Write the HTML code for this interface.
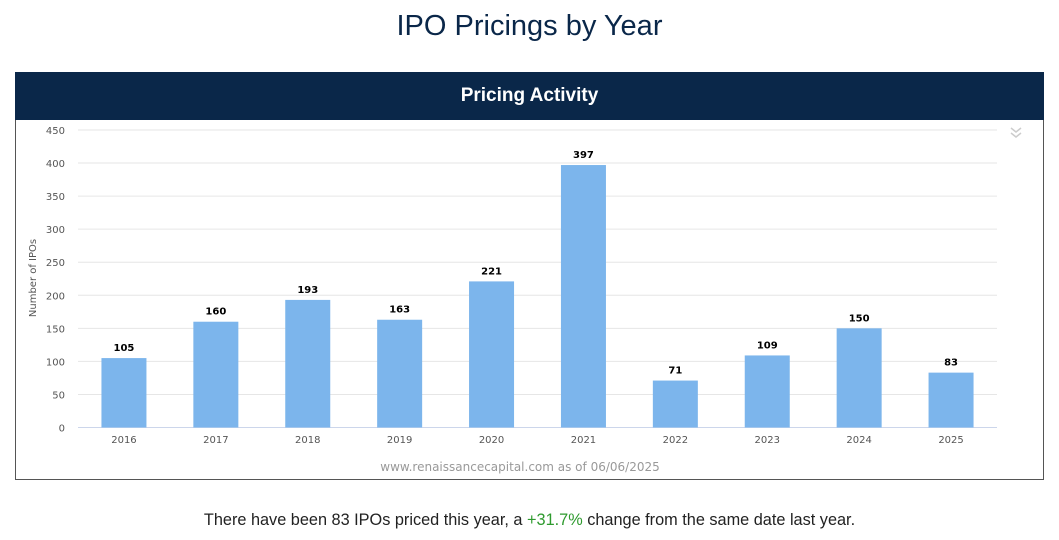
<!DOCTYPE html>
<html><head><meta charset="utf-8"><style>
body{margin:0;width:1059px;height:540px;background:#fff;font-family:"Liberation Sans",sans-serif;position:relative;overflow:hidden}
#title{position:absolute;left:0;width:1059px;top:10px;text-align:center;font-size:29px;color:#0a2749}
#panel{position:absolute;left:15px;top:72px;width:1027px;height:407px;border:1px solid #555;border-top:none}
#hdr{position:absolute;left:15px;top:72px;width:1029px;height:48px;background:#0a2749;color:#fff;font-size:19px;text-align:center;line-height:48px;font-weight:bold}
#foot{position:absolute;left:0;width:1059px;top:511px;text-align:center;font-size:16.3px;color:#222}
</style></head><body>
<div id="title">IPO Pricings by Year</div>
<div id="panel"></div>
<div id="hdr">Pricing Activity</div>
<svg id="chart" width="1059" height="540" style="position:absolute;left:0;top:0"></svg>
<div id="foot">There have been 83 IPOs priced this year, a <span style="color:#2e9a2e">+31.7%</span> change from the same date last year.</div>
<script>
const categories=["2016","2017","2018","2019","2020","2021","2022","2023","2024","2025"];
const values=[105,160,193,163,221,397,71,109,150,83];
const ticks=[0,50,100,150,200,250,300,350,400,450];
const svg=document.getElementById('chart');const NS="http://www.w3.org/2000/svg";
const x0=78,x1=997,yb=427.5,yt=130,ymax=450;
const y=v=>yb-(v/ymax)*(yb-yt);
const bw=(x1-x0)/categories.length;
const xc=i=>x0+bw*(i+0.5);
function mk(t,a,txt){const e=document.createElementNS(NS,t);for(const k in a)e.setAttribute(k,a[k]);if(txt!==undefined)e.textContent=txt;svg.appendChild(e);return e;}
ticks.forEach(t=>{
 const l=mk('line',{x1:x0,x2:x1,y1:y(t),y2:y(t),stroke:t===0?'#ccd6eb':'#e6e6e6','stroke-width':1});
 
 
 const tx=mk('text',{x:65,y:y(t)+4,'text-anchor':'end','font-size':10,fill:'#555','font-family':'DejaVu Sans, sans-serif'},t);
 
 
});
categories.forEach((c,i)=>{
 const v=values[i];
 const r=mk('rect',{x:xc(i)-22.5,y:y(v),width:45,height:yb-y(v),fill:'#7cb5ec'});
 
 
 const lb=mk('text',{x:xc(i),y:y(v)-7,'text-anchor':'middle','font-size':10,'font-weight':'bold',fill:'#000','font-family':'DejaVu Sans, sans-serif'},v);
 
 
 const xl=mk('text',{x:xc(i),y:443,'text-anchor':'middle','font-size':10,fill:'#555','font-family':'DejaVu Sans, sans-serif'},c);
 
 
});
const yt2=mk('text',{x:36,y:278,'text-anchor':'middle','font-size':10,fill:'#555',transform:'rotate(-90 36 278)','font-family':'DejaVu Sans, sans-serif'},'Number of IPOs');


const cr=mk('text',{x:520,y:471,'text-anchor':'middle','font-size':12,fill:'#999','font-family':'DejaVu Sans, sans-serif'},'www.renaissancecapital.com as of 06/06/2025');


const ic=mk('path',{d:'M1011 128 l5 4 l5 -4 M1011 133 l5 4 l5 -4',stroke:'#ccc',fill:'none','stroke-width':1.5});


</script>
</body></html>
